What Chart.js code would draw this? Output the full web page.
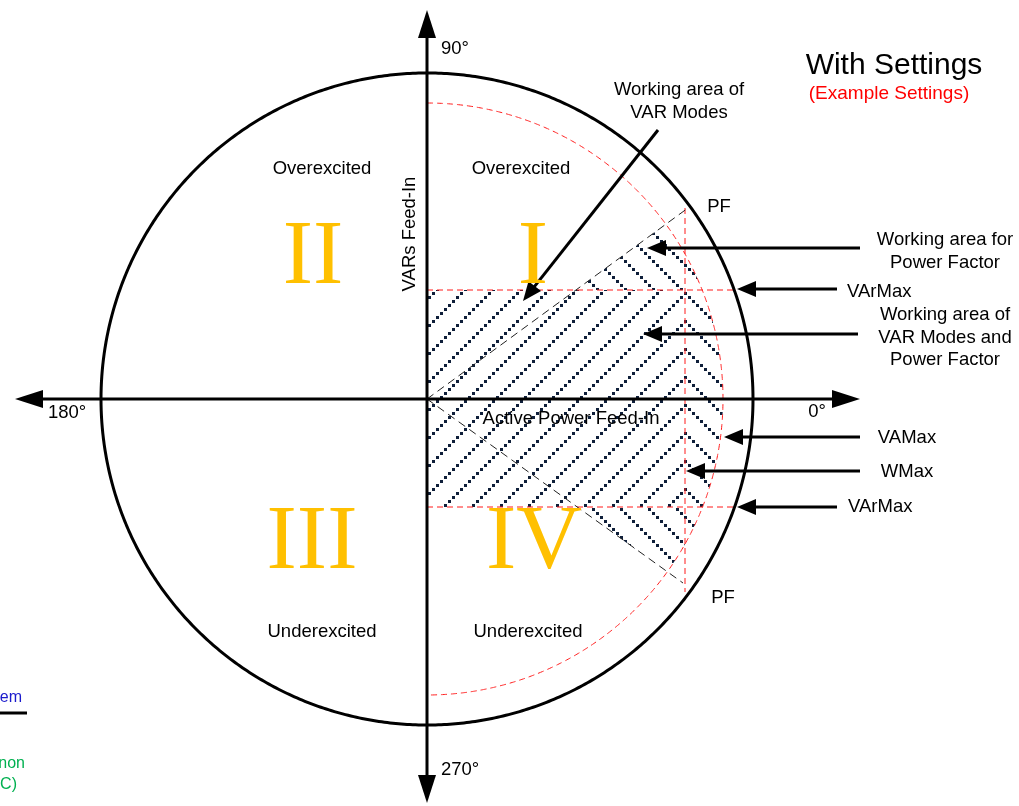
<!DOCTYPE html>
<html><head><meta charset="utf-8">
<script src="https://cdn.jsdelivr.net/npm/chart.js@4.4.1/dist/chart.umd.min.js"></script>
<style>html,body{margin:0;padding:0;background:#fff;overflow:hidden}#wrap{width:1019px;height:806px;position:relative}</style>
</head><body><div id="wrap"><canvas id="c"></canvas></div>
<script>
// ---- Diagram values (diagram units; VAMax circle radius = 296) ----
const VA_MAX = [296];               // red dashed circle (apparent power limit)
const OUTER_RADIUS = [326];         // black outer circle
const W_MAX = [258];                // active power limit
const VAR_MAX = [109, -108];        // reactive power limits (feed-in / absorb)
const PF_END_X = [261, 256];        // power-factor limit lines (end points)
const PF_END_Y = [191, -184];
const WMAX_LINE_Y = [191, -193];    // extent of the WMax dashed line
const VARMAX_LINE_X = [0, 306];     // extent of the VArMax dashed lines
const AXIS_X = [-412, 433];         // horizontal axis arrow tips
const AXIS_Y = [389, -404];         // vertical axis arrow tips
const quadrantNumerals = ['I', 'II', 'III', 'IV'];
const quadrantNames = ['Overexcited', 'Overexcited', 'Underexcited', 'Underexcited'];
const angleLabels = ['0°', '90°', '180°', '270°'];
const calloutLabels = [['Working area of', 'VAR Modes'], ['Working area for', 'Power Factor'],
  ['Working area of', 'VAR Modes and', 'Power Factor'], ['VArMax'], ['VAMax'], ['WMax'], ['VArMax']];

// ---- geometry helpers ----
function arc(r, a0, a1, n) {
  const pts = [];
  for (let i = 0; i <= n; i++) {
    const a = (a0 + (a1 - a0) * i / n) * Math.PI / 180;
    pts.push({x: r * Math.cos(a), y: r * Math.sin(a)});
  }
  return pts;
}
const pfTopDeg = Math.atan2(PF_END_Y[0], PF_END_X[0]) * 180 / Math.PI;
const pfBotDeg = Math.atan2(PF_END_Y[1], PF_END_X[1]) * 180 / Math.PI;

// ---- hatch patterns ----
const HATCH = '#0f1f3a';
function hatch(dir) {
  const c = document.createElement('canvas');
  c.width = 28; c.height = 28;
  const g = c.getContext('2d');
  g.fillStyle = HATCH;
  for (let i = 0; i < 7; i++) {
    const px = i * 4;
    const py = dir === '/' ? 24 - i * 4 : i * 4;
    g.fillRect(px, py, 3, 3);
  }
  return g.createPattern(c, 'repeat');
}

const regionPF = [{x: 0, y: 0}, ...arc(VA_MAX[0], pfTopDeg, pfBotDeg, 60), {x: 0, y: 0}];
const regionVAR = [{x: 0, y: VAR_MAX[0]}, {x: W_MAX[0], y: VAR_MAX[0]}, {x: W_MAX[0], y: VAR_MAX[1]},
  {x: 0, y: VAR_MAX[1]}, {x: 0, y: VAR_MAX[0]}];

const base = {showLine: true, pointRadius: 0, pointHoverRadius: 0, tension: 0, fill: false};
const curved = {tension: 0.0001, capBezierPoints: false};
const RED = '#ff1a1a';
const datasets = [
  {...base, ...curved, data: regionPF, fill: 'shape', backgroundColor: hatch('\\'), borderWidth: 0, order: 20},
  {...base, data: regionVAR, fill: 'shape', backgroundColor: '#ffffff', borderWidth: 0, order: 19},
  {...base, data: regionVAR, fill: 'shape', backgroundColor: hatch('/'), borderWidth: 0, order: 18},
  {...base, ...curved, data: arc(VA_MAX[0], 90, -90, 180), borderColor: RED, borderWidth: 1, borderDash: [6, 4], order: 10},
  {...base, data: [{x: VARMAX_LINE_X[0], y: VAR_MAX[0]}, {x: VARMAX_LINE_X[1], y: VAR_MAX[0]}], borderColor: RED, borderWidth: 1, borderDash: [6, 4], order: 10},
  {...base, data: [{x: VARMAX_LINE_X[0], y: VAR_MAX[1]}, {x: VARMAX_LINE_X[1], y: VAR_MAX[1]}], borderColor: RED, borderWidth: 1, borderDash: [6, 4], order: 10},
  {...base, data: [{x: W_MAX[0], y: WMAX_LINE_Y[0]}, {x: W_MAX[0], y: WMAX_LINE_Y[1]}], borderColor: RED, borderWidth: 1, borderDash: [6, 4], order: 10},
  {...base, data: [{x: 0, y: 0}, {x: PF_END_X[0], y: PF_END_Y[0]}], borderColor: '#222', borderWidth: 1, borderDash: [8, 5], order: 9},
  {...base, data: [{x: 0, y: 0}, {x: PF_END_X[1], y: PF_END_Y[1]}], borderColor: '#222', borderWidth: 1, borderDash: [8, 5], order: 9},
  {...base, ...curved, data: arc(OUTER_RADIUS[0], 0, 360, 360), borderColor: '#000', borderWidth: 3, order: 5}
];

// ---- annotation layout (diagram units) ----
const SANS = 'Arial, "Liberation Sans", sans-serif';
const SERIF = '"Times New Roman", "Liberation Serif", serif';
const callouts = [
  {from: [231, 269], to: [96, 98], text: [252, 304], align: 'center'},
  {from: [433, 151], to: [220, 151], text: [518, 154], align: 'center'},
  {from: [431, 65], to: [216, 65], text: [518, 79], align: 'center'},
  {from: [410, 110], to: [310, 110], text: [420, 102], align: 'left'},
  {from: [433, -38], to: [297, -38], text: [480, -44], align: 'center'},
  {from: [433, -72], to: [259, -72], text: [480, -78], align: 'center'},
  {from: [410, -108], to: [310, -108], text: [421, -113], align: 'left'}
];

function drawArrow(ctx, x1, y1, x2, y2, w, hl, hw, both) {
  const a = Math.atan2(y2 - y1, x2 - x1);
  const cx = Math.cos(a), sy = Math.sin(a);
  const sx1 = both ? x1 + cx * hl * 0.9 : x1, sy1 = both ? y1 + sy * hl * 0.9 : y1;
  ctx.strokeStyle = '#000'; ctx.fillStyle = '#000'; ctx.lineWidth = w; ctx.setLineDash([]);
  ctx.beginPath(); ctx.moveTo(sx1, sy1); ctx.lineTo(x2 - cx * hl * 0.9, y2 - sy * hl * 0.9); ctx.stroke();
  const head = (tx, ty, dx, dy) => {
    ctx.beginPath();
    ctx.moveTo(tx, ty);
    ctx.lineTo(tx - dx * hl - dy * hw, ty - dy * hl + dx * hw);
    ctx.lineTo(tx - dx * hl + dy * hw, ty - dy * hl - dx * hw);
    ctx.closePath(); ctx.fill();
  };
  head(x2, y2, cx, sy);
  if (both) head(x1, y1, -cx, -sy);
}

const annot = {
  id: 'annot',
  afterDatasetsDraw(chart) {
    const {ctx, scales: {x, y}} = chart;
    const X = v => x.getPixelForValue(v), Y = v => y.getPixelForValue(v);
    ctx.save();
    // axes
    drawArrow(ctx, X(AXIS_X[0]), Y(0), X(AXIS_X[1]), Y(0), 3, 28, 9, true);
    drawArrow(ctx, X(0), Y(AXIS_Y[0]), X(0), Y(AXIS_Y[1]), 3, 28, 9, true);
    // callouts
    callouts.forEach(c => drawArrow(ctx, X(c.from[0]), Y(c.from[1]), X(c.to[0]), Y(c.to[1]), 3, 19, 8, false));

    const txt = (s, ux, uy, font, color, align) => {
      ctx.font = font; ctx.fillStyle = color; ctx.textAlign = align || 'center'; ctx.textBaseline = 'alphabetic';
      ctx.fillText(s, X(ux), Y(uy));
    };
    const F = '18.5px ' + SANS;
    // angle labels
    txt(angleLabels[0], 390, -18, F, '#000', 'center');
    txt(angleLabels[1], 14, 345, F, '#000', 'left');
    txt(angleLabels[2], -379, -19, F, '#000', 'left');
    txt(angleLabels[3], 14, -376, F, '#000', 'left');
    // quadrants
    const namePos = [[94, 225], [-105, 225], [-105, -238], [101, -238]];
    const numPos = [[106, 116], [-114, 116], [-115, -169], [107, -169]];
    quadrantNames.forEach((n, i) => txt(n, namePos[i][0], namePos[i][1], F, '#000'));
    quadrantNumerals.forEach((n, i) => txt(n, numPos[i][0], numPos[i][1], '91px ' + SERIF, '#ffc000'));
    // axis titles
    txt('Active Power Feed-In', 144, -25, F, '#000');
    ctx.save();
    ctx.translate(X(-12), Y(165)); ctx.rotate(-Math.PI / 2);
    ctx.font = F; ctx.fillStyle = '#000'; ctx.textAlign = 'center'; ctx.textBaseline = 'alphabetic';
    ctx.fillText('VARs Feed-In', 0, 0);
    ctx.restore();
    // PF labels
    txt('PF', 292, 187, F, '#000');
    txt('PF', 296, -204, F, '#000');
    // titles
    txt('With Settings', 467, 325, '30px ' + SANS, '#000');
    txt('(Example Settings)', 462, 300, '19px ' + SANS, '#ff0000');
    // callout labels
    callouts.forEach((c, i) => {
      calloutLabels[i].forEach((line, j) => txt(line, c.text[0], c.text[1] - j * 22.5, F, '#000', c.align));
    });
    // cut-off legend at left edge
    txt('System', -405, -303, '16px ' + SANS, '#1a1acc', 'right');
    ctx.strokeStyle = '#000'; ctx.lineWidth = 3;
    ctx.beginPath(); ctx.moveTo(X(-427), Y(-314)); ctx.lineTo(X(-400), Y(-314)); ctx.stroke();
    txt('Phenomenon', -402, -369, '16px ' + SANS, '#00b050', 'right');
    txt('(IEC)', -410, -390, '16px ' + SANS, '#00b050', 'right');
    ctx.restore();
  }
};

new Chart(document.getElementById('c'), {
  type: 'scatter',
  data: {datasets},
  options: {
    responsive: true, maintainAspectRatio: false, animation: false, events: [],
    layout: {padding: 0},
    plugins: {legend: {display: false}, tooltip: {enabled: false}, filler: {propagate: false}},
    scales: {
      x: {type: 'linear', min: -427, max: 592, display: false},
      y: {type: 'linear', min: -407, max: 399, display: false}
    }
  },
  plugins: [annot]
});
</script></body></html>
